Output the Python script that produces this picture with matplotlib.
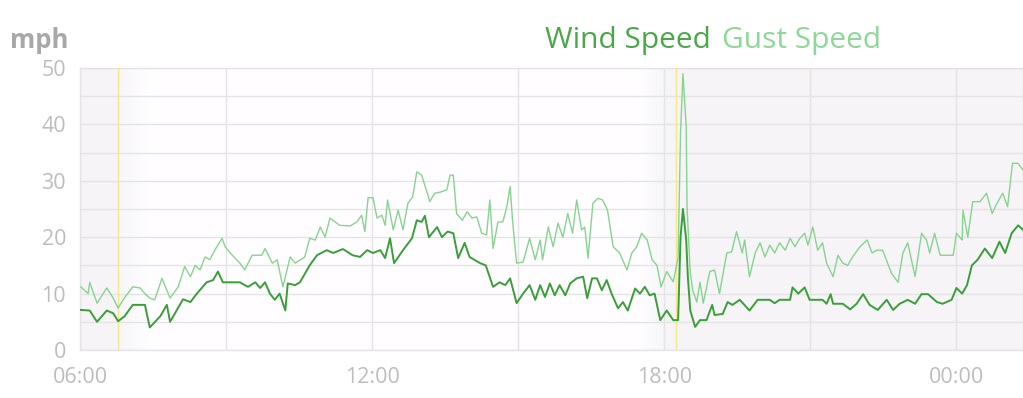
import matplotlib.pyplot as plt
import matplotlib.dates as mdates
import numpy as np
import pandas as pd

# minutes after 06:00 and speeds in mph
wind_min = [1, 12, 21, 33, 41, 47, 55, 65, 74, 80, 86, 99, 107, 111, 127, 136, 144, 156, 164, 170,
            176, 197, 207, 216, 222, 228, 234, 240, 246, 253, 256, 265, 271, 283, 292, 304, 312, 324,
            336, 345, 354, 361, 370, 376, 382, 387, 398, 409, 415, 421, 425, 430, 440, 446, 453, 460,
            466, 474, 480, 493, 500, 509, 517, 524, 530, 538, 546, 554, 561, 567, 573, 579, 585, 591,
            598, 604, 612, 620, 625, 631, 637, 643, 649, 655, 663, 669, 675, 684, 690, 696, 702, 708,
            715, 723, 731, 737, 740, 743, 747, 749, 752, 758, 764, 772, 779, 782, 792, 798, 804, 813,
            825, 835, 850, 856, 862, 875, 878, 885, 893, 899, 915, 920, 925, 928, 940, 949, 957, 965,
            973, 983, 994, 1002, 1010, 1020, 1029, 1037, 1045, 1056, 1063, 1074, 1080, 1087, 1093,
            1099, 1106, 1115, 1124, 1133, 1140, 1148, 1156, 1162]
wind_mph = [7.1, 7, 5, 7, 6.5, 5.1, 6, 8, 8, 8, 4, 6, 8, 5, 9, 8.5, 10, 12, 12.4, 13.9,
            12, 12, 11.2, 12, 11, 12, 10, 8.9, 10, 7, 11.8, 11.5, 12, 15, 16.8, 17.7, 17.2, 17.9,
            16.8, 16.5, 17.7, 17.2, 17.7, 16.3, 19.8, 15.4, 17.7, 19.8, 23, 22.7, 23.8, 20, 21.8, 20, 21, 20.7,
            16.3, 19, 16.5, 15.4, 15, 11.2, 12, 11.5, 12.7, 8.3, 10, 11.5, 8.9, 11.5, 9.4, 11.8, 9.7, 11.5,
            9.7, 11.8, 12.7, 13, 9.2, 12.7, 12.7, 10.6, 12.4, 10, 7.4, 8.5, 7, 10.9, 10, 11.2, 9.7, 10,
            5.3, 7, 5.3, 5.3, 20, 25, 19.5, 13, 7, 4.1, 5.3, 5.3, 8, 6.2, 6.4, 8.5, 8, 8.9,
            7, 8.9, 8.9, 8.3, 8.9, 8.9, 11.1, 10, 11.1, 8.9, 8.9, 8.2, 9.9, 8.2, 8.2, 7.2, 8.2, 9.9,
            8, 7.1, 8.9, 7.1, 8.2, 8.9, 8.2, 9.9, 9.9, 8.5, 8.2, 8.9, 11, 10, 11.5,
            15, 16, 18, 16.3, 19.2, 17.2, 20.7, 22.1, 21.3]

gust_min = [1, 10, 12, 21, 33, 41, 47, 53, 65, 74, 80, 86, 92, 101, 111, 121, 129, 136, 142, 148,
            154, 160, 166, 175, 179, 185, 197, 203, 212, 224, 228, 237, 243, 250, 259, 265, 277, 283,
            290, 296, 302, 308, 320, 333, 341, 347, 351, 355, 361, 366, 372, 376, 379, 386, 392, 398,
            404, 410, 415, 421, 428, 431, 437, 444, 452, 456, 460, 464, 471, 477, 483, 489, 495, 501,
            505, 509, 515, 521, 526, 530, 533, 538, 546, 554, 561, 567, 570, 577, 583, 589, 595, 601,
            607, 612, 618, 622, 626, 632, 638, 644, 650, 657, 665, 674, 680, 686, 692, 699, 705, 711,
            716, 723, 731, 737, 740, 743, 747, 748, 752, 755, 760, 764, 768, 776, 782, 788, 797, 803,
            809, 816, 819, 825, 832, 838, 844, 850, 856, 862, 869, 875, 881, 887, 893, 897, 903, 909,
            915, 920, 928, 934, 940, 946, 952, 961, 970, 976, 982, 989, 1000, 1008, 1014, 1020, 1029,
            1037, 1043, 1047, 1053, 1060, 1068, 1076, 1080, 1087, 1088, 1094, 1100, 1109, 1117, 1124,
            1130, 1137, 1143, 1149, 1156, 1162]
gust_mph = [11.2, 10, 12, 8.3, 11, 9.2, 7.4, 8.9, 11.2, 11, 10, 9.2, 8.9, 12.7, 9.2, 11.2, 14.8, 13, 15, 14.2,
            16.5, 16, 17.7, 19.8, 18.3, 17.2, 15.4, 14.2, 16.8, 16.8, 18, 15.4, 16, 11.2, 16.5, 15.4, 16.5, 19.8,
            19.5, 21.8, 20, 23.4, 22.1, 22, 22.7, 23.9, 21, 27, 27, 23.4, 23.9, 22.1, 26.6, 21.3, 24.8, 21.3,
            26, 27.2, 31.6, 31, 27.8, 26.3, 27.8, 28, 28.4, 31, 31, 24.2, 23, 24.5, 23.4, 23.6, 20.7, 20.4,
            26.6, 18, 22.7, 22.7, 25.4, 29, 23, 15.4, 15.6, 19.8, 16, 19.5, 16, 21.8, 18.3, 22.5, 20, 24.2,
            20.7, 26.6, 21.3, 21.8, 16.3, 26, 26.9, 26.6, 24.8, 18.3, 17.2, 14.2, 17.2, 18.3, 20.7, 19.5, 16, 15,
            11.2, 13.9, 12.1, 16.3, 38.5, 49, 39.5, 25.4, 13.6, 10.6, 8.5, 12, 8.3, 13.9, 14.2, 10, 17.2, 17.4,
            21, 17.2, 19.5, 13, 17.2, 19, 16.5, 18.6, 17.2, 19, 17.7, 19.8, 18.3, 19.8, 20.7, 18.6, 21.8, 17.7,
            19, 15.4, 13, 16.8, 15.4, 15, 16.5, 18.3, 19.5, 17.2, 17.7, 17.7, 13.6, 12, 17.2, 19, 13,
            20.7, 19.5, 17.2, 20.7, 16.8, 16.8, 16.8, 20.7, 19.5, 24.8, 20, 26.3, 26.3, 27.8, 24.2,
            26, 27.8, 25.4, 33.1, 33.1, 31.9]

start = pd.Timestamp('2020-03-10 06:00')
sunrise = start + pd.Timedelta(minutes=47)
sunset = start + pd.Timedelta(minutes=735)
end = start + pd.Timedelta(minutes=1162)

wind_t = start + pd.to_timedelta(wind_min, unit='m')
gust_t = start + pd.to_timedelta(gust_min, unit='m')

plt.rcParams['font.family'] = ['Open Sans', 'DejaVu Sans']

fig = plt.figure(figsize=(10.23, 3.98), dpi=100)
ax = fig.add_axes([80 / 1023, 1 - 350 / 398, 1 - 80 / 1023, (350 - 68) / 398])

# night shading with soft edges around sunrise / sunset
x0, x1 = mdates.date2num(start), mdates.date2num(end)
xs = np.linspace(x0, x1, 1200)
hour = (xs - x0) * 24
morning = np.clip((1.45 - hour) / 0.7, 0, 1)
evening = np.clip((hour - 11.45) / 0.6, 0, 1)
night = np.maximum(morning, evening)
shade = 1 - night * (1 - 0.965)
img = np.dstack([shade, shade * 0.995, shade * 1.003])
img = np.clip(img, 0, 1)
ax.imshow(img.reshape(1, -1, 3), extent=[x0, x1, 0, 50], aspect='auto', zorder=0)

ax.axvline(sunrise, color='#f3e88a', lw=1, zorder=2.6)
ax.axvline(sunset, color='#f3e88a', lw=1, zorder=2.6)

ax.plot(gust_t, gust_mph, color='#86d490', lw=1.0, zorder=3)
ax.plot(wind_t, wind_mph, color='#3a9e3a', lw=1.4, zorder=4)

ax.set_xlim(start, end)
ax.set_ylim(0, 50)
ax.set_yticks([0, 10, 20, 30, 40, 50])
ax.set_yticks(np.arange(0, 51, 5), minor=True)
ax.xaxis.set_major_locator(mdates.HourLocator(byhour=[0, 6, 12, 18]))
ax.xaxis.set_minor_locator(mdates.HourLocator(byhour=[0, 3, 6, 9, 12, 15, 18, 21]))
ax.xaxis.set_major_formatter(mdates.DateFormatter('%H:%M'))
ax.set_axisbelow(False)
ax.grid(which='both', color='#e4e4e4', lw=1)
ax.tick_params(which='both', length=0, colors='#bdbdbd', labelsize=15.5)
ax.tick_params(axis='y', pad=10)
ax.tick_params(axis='x', pad=12)
for s in ax.spines.values():
    s.set_color('#e4e4e4')
    s.set_linewidth(1)

fig.text(10 / 1023, 1 - 48 / 398, 'mph', fontsize=18.5, fontweight='bold', color='#a8a8a8', va='baseline')
fig.text(545 / 1023, 1 - 48 / 398, 'Wind Speed', fontsize=21.5, color='#48a848', va='baseline')
fig.text(722 / 1023, 1 - 48 / 398, 'Gust Speed', fontsize=21.5, color='#8dd899', va='baseline')

fig.savefig('out.png', dpi=100)
